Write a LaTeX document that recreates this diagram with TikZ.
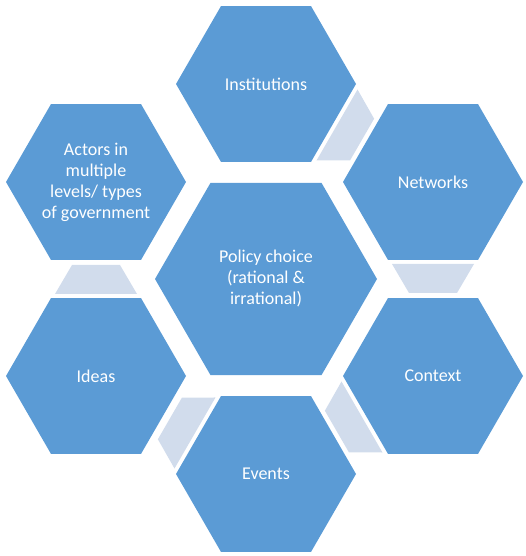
\documentclass[tikz,border=0pt]{standalone}
\usepackage{fontspec}
\setmainfont{Carlito}
\usetikzlibrary{shapes.geometric}
\definecolor{hexblue}{HTML}{5B9BD5}
\definecolor{hexpale}{HTML}{D1DCEC}

\begin{document}
\begin{tikzpicture}[x=1pt,y=1pt,
    hex/.style={regular polygon,regular polygon sides=6,minimum size=180pt,inner sep=0pt,
      fill=hexblue,text=white,align=center,font=\fontsize{18}{21}\selectfont},
    conn/.style={fill=hexpale}]
    \useasboundingbox (0,0) rectangle (526,556);
    \node[hex,minimum size=222pt] (P) at (266,277) {Policy choice\\(rational \&\\irrational)};
    \node[hex] (I) at (266,472) {Institutions};
    \node[hex] (N) at (433,374) {Networks};
    \node[hex] (C) at (433,180) {Context};
    \node[hex] (E) at (266,82) {Events};
    \node[hex] (Id) at (96,180) {Ideas};
    \node[hex] (A) at (96,374) {Actors in\\multiple\\levels/ types\\of government};
    % pale links between neighbours
    \foreach \h/\a in {I/-30,N/-90,C/210,E/150,Id/90} {
      \begin{scope}[shift={(\h.center)},rotate=\a]
        \fill[conn] (82,-41) -- (82,41) -- (111,24) -- (111,-24) -- cycle;
      \end{scope}
    }
  \end{tikzpicture}
\end{document}
